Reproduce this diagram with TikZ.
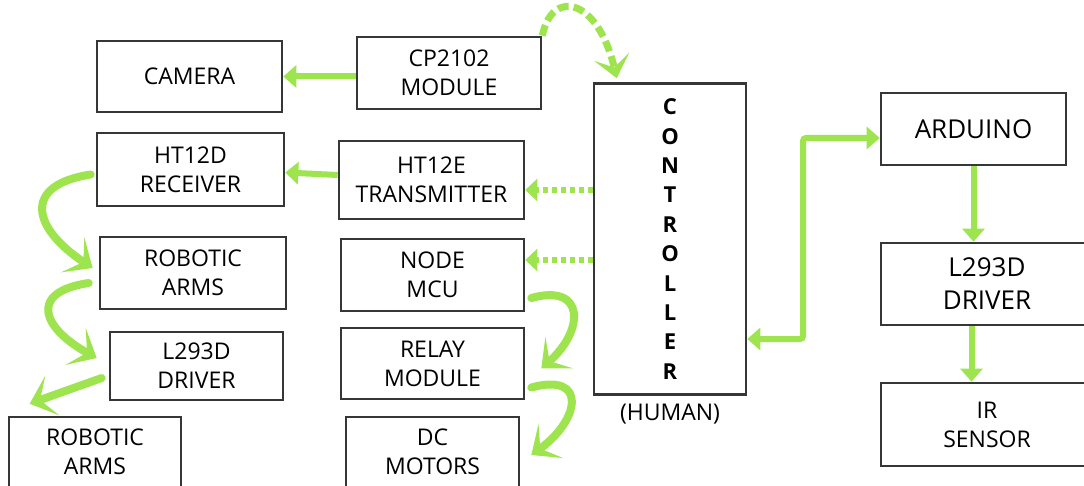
\documentclass[tikz,border=0pt]{standalone}
\usepackage{fontspec}
\setmainfont{Open Sans}
\usetikzlibrary{positioning,arrows.meta}
\definecolor{LeafGreen}{RGB}{158,228,78}
\definecolor{BoxGray}{RGB}{52,54,56}
\tikzstyle{BlockNode}=[rectangle, draw=BoxGray, line width=2.6pt, align=center, inner sep=0pt, font=\fontsize{23}{29}\selectfont]
\tikzstyle{BigBlockNode}=[BlockNode, font=\fontsize{26}{33}\selectfont]
\tikzstyle{GreenArrow}=[draw=LeafGreen, line width=6pt, -{Triangle[length=13pt,width=22pt]}]
\tikzstyle{DotArrow}=[draw=LeafGreen, line width=6pt, dash pattern=on 5pt off 4pt, -{Triangle[length=12pt,width=22pt]}]
\tikzstyle{CurveArrow}=[draw=LeafGreen, line width=8pt, line cap=round, -{Stealth[length=24pt,width=42pt,inset=13pt]}]

\begin{document}
\begin{tikzpicture}[x=1pt, y=-1pt]
    \useasboundingbox (0,0) rectangle (1084,486);

    % left column
    \node (camera) [BlockNode, minimum width=185pt, minimum height=71pt] at (189.5,76.5) {CAMERA};
    \node (recv) [BlockNode, minimum width=187pt, minimum height=73pt] at (190.5,169.5) {HT12D\\RECEIVER};
    \node (armsA) [BlockNode, minimum width=186pt, minimum height=72pt] at (193,273) {ROBOTIC\\ARMS};
    \node (driverL) [BlockNode, minimum width=173pt, minimum height=68pt] at (196.5,366) {L293D\\DRIVER};
    \node (armsB) [BlockNode, minimum width=172pt, minimum height=70pt] at (95,452) {ROBOTIC\\ARMS};

    % middle column
    \node (cp) [BlockNode, minimum width=184pt, minimum height=72pt] at (449,73) {CP2102\\MODULE};
    \node (trans) [BlockNode, minimum width=185pt, minimum height=78pt] at (431.5,180) {HT12E\\TRANSMITTER};
    \node (nodemcu) [BlockNode, minimum width=183pt, minimum height=72pt] at (432.5,275) {NODE\\MCU};
    \node (relay) [BlockNode, minimum width=183pt, minimum height=71pt] at (432.5,363.5) {RELAY\\MODULE};
    \node (motors) [BlockNode, minimum width=173pt, minimum height=70pt] at (432.5,452) {DC\\MOTORS};

    % controller
    \node (ctrl) [BlockNode, minimum width=152pt, minimum height=311pt, font=\fontsize{22}{29.4}\selectfont\bfseries] at (670,239) {C\\O\\N\\T\\R\\O\\L\\L\\E\\R};
    \node (human) [below=5pt of ctrl, font=\fontsize{23}{27}\selectfont] {(HUMAN)};

    % right column
    \node (arduino) [BigBlockNode, minimum width=185pt, minimum height=72pt] at (973.5,129) {ARDUINO};
    \node (driverR) [BigBlockNode, minimum width=212pt, minimum height=82pt] at (987,284) {L293D\\DRIVER};
    \node (ir) [BlockNode, minimum width=212pt, minimum height=83pt] at (987,424.5) {IR\\SENSOR};
    \coordinate (bend) at (803,240);

    \draw [GreenArrow] (cp.west |- camera.east) -- (camera.east);
    \draw [GreenArrow] ([yshift=5pt]trans.west) -- ([yshift=-3pt]recv.east);
    \draw [DotArrow] ([yshift=-10pt]ctrl.west |- trans.east) -- ([yshift=-10pt]trans.east);
    \draw [DotArrow] ([yshift=15pt]ctrl.west |- nodemcu.east) -- ([yshift=15pt]nodemcu.east);
    \draw [draw=LeafGreen, line width=7pt, dash pattern=on 11pt off 5pt, -{Stealth[length=22pt,width=36pt,inset=11pt]}]
        (cp.north east) .. controls (552,-12) and (598,-2) .. ([xshift=24pt,yshift=4pt]ctrl.north west);
    \draw [GreenArrow, {Triangle[length=13pt,width=22pt]}-{Triangle[length=13pt,width=22pt]}, rounded corners=3pt]
        ([yshift=-100pt]ctrl.east) -| (bend) |- ([yshift=-9pt]arduino.west);
    \draw [GreenArrow] (arduino.south) -- (arduino.south |- driverR.north);
    \draw [GreenArrow] ([xshift=-2pt]arduino.south |- driverR.south) -- ([xshift=-2pt]arduino.south |- ir.north);

    % curved arrows
    \draw [CurveArrow] ([xshift=-5pt,yshift=-5pt]recv.west) .. controls (22,185) and (32,228) .. ([xshift=-6pt,yshift=5pt]armsA.west);
    \draw [CurveArrow] ([xshift=-10pt,yshift=-10pt]armsA.west) .. controls (28,292) and (42,328) .. ([xshift=-12pt,yshift=8pt]driverL.west);
    \draw [CurveArrow] ([xshift=-7pt,yshift=-12pt]driverL.west) -- ([xshift=22pt,yshift=12pt]armsB.north west);
    \draw [CurveArrow] ([xshift=6pt,yshift=-23pt]nodemcu.east) .. controls (585,283) and (585,330) .. ([xshift=16pt,yshift=-5pt]relay.east);
    \draw [CurveArrow] ([xshift=6pt,yshift=-24pt]relay.east) .. controls (588,372) and (580,420) .. ([xshift=11pt,yshift=-3pt]motors.east);
\end{tikzpicture}
\end{document}
